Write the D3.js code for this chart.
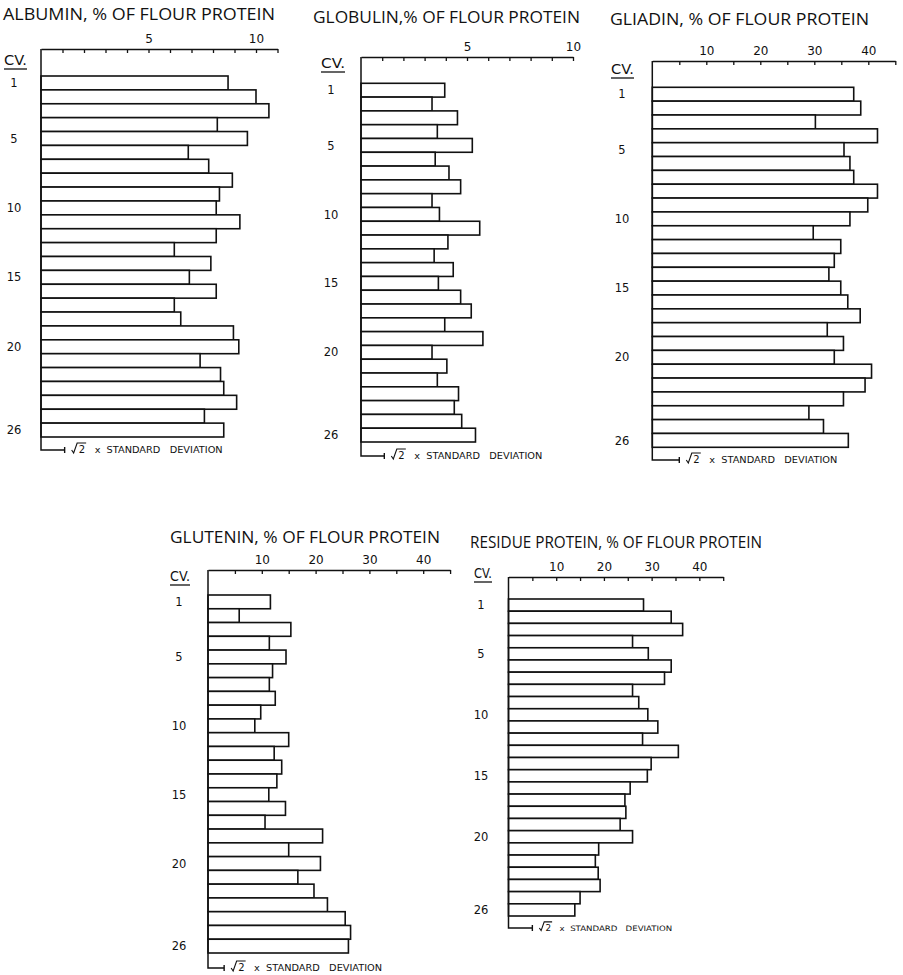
<!DOCTYPE html>
<html>
<head>
<meta charset="utf-8">
<script src="https://cdn.jsdelivr.net/npm/d3@7"></script>
<style>
  body { margin: 0; background: #fff; }
  text { font-family: "DejaVu Sans", "Liberation Sans", sans-serif; fill: #111; }
  .title { font-family: "Open Sans", "Liberation Sans", sans-serif; }
</style>
</head>
<body>
<script>
// cultivar numbers and the ones that get a label
const cvNumbers = d3.range(1, 27);
const cvTickLabels = [1, 5, 10, 15, 20, 26];

// % of flour protein, cultivars 1..26
const albumin = [8.7, 10.0, 10.6, 8.2, 9.6, 6.85, 7.8, 8.9, 8.3, 8.15, 9.25, 8.15, 6.2,
  7.9, 6.9, 8.15, 6.2, 6.5, 8.95, 9.2, 7.4, 8.35, 8.5, 9.1, 7.6, 8.5];
const globulin = [3.95, 3.35, 4.55, 3.6, 5.25, 3.5, 4.15, 4.7, 3.35, 3.7, 5.6, 4.1, 3.45,
  4.35, 3.65, 4.7, 5.2, 3.95, 5.75, 3.35, 4.05, 3.6, 4.6, 4.4, 4.75, 5.4];
const gliadin = [37.3, 38.6, 30.2, 41.7, 35.5, 36.6, 37.3, 41.7, 39.9, 36.6, 29.8, 34.9, 33.7,
  32.7, 34.9, 36.2, 38.5, 32.4, 35.4, 33.7, 40.6, 39.4, 35.4, 29.0, 31.7, 36.3];
const glutenin = [11.6, 5.8, 15.4, 11.4, 14.5, 12.0, 11.4, 12.5, 9.8, 8.7, 15.0, 12.3, 13.7,
  12.8, 11.3, 14.4, 10.6, 21.3, 15.0, 20.9, 16.7, 19.7, 22.2, 25.5, 26.5, 26.1];
const residue = [28.3, 34.1, 36.5, 26.0, 29.3, 34.1, 32.7, 26.0, 27.3, 29.2, 31.3, 28.1, 35.6,
  29.9, 29.1, 25.5, 24.4, 24.6, 23.4, 26.0, 18.9, 18.2, 18.8, 19.2, 15.0, 13.9];

// sqrt(2) x standard deviation, same units
const sdValues = [1.1, 1.1, 5, 3, 5];

const titles = [
  "ALBUMIN, % OF FLOUR PROTEIN",
  "GLOBULIN,% OF FLOUR PROTEIN",
  "GLIADIN, % OF FLOUR PROTEIN",
  "GLUTENIN, % OF FLOUR PROTEIN",
  "RESIDUE PROTEIN, % OF FLOUR PROTEIN"
];
const axisMax = [11, 10, 45, 45, 45];
const axisTicks = [d3.range(1, 12), d3.range(1, 11), d3.range(5, 50, 5), d3.range(5, 50, 5), d3.range(5, 50, 5)];
const axisLabels = [[5, 10], [5, 10], [10, 20, 30, 40], [10, 20, 30, 40], [10, 20, 30, 40]];

// layout of each panel on the page (pixels)
const layout = [
  { tx: 3, ty: 20, tw: 272, ay: 49, x0: 41, x1: 277.5, top: 76, bottom: 437, lx: 14, cvx: 4, cvy: 65, cvw: 23, sdy: 450, rs: 1 },
  { tx: 313, ty: 23, tw: 267, ay: 57, x0: 361, x1: 573, top: 83.3, bottom: 442, lx: 331, cvx: 321, cvy: 68, cvw: 24, sdy: 456, rs: 1 },
  { tx: 610, ty: 25, tw: 259, ay: 61, x0: 652.3, x1: 895.3, top: 87.3, bottom: 447.3, lx: 622, cvx: 611, cvy: 74, cvw: 23, sdy: 460, rs: 1 },
  { tx: 170, ty: 543, tw: 270, ay: 570, x0: 208, x1: 450.1, top: 595, bottom: 953, lx: 179, cvx: 170, cvy: 581, cvw: 20, sdy: 968, rs: 1 },
  { tx: 470, ty: 548, tw: 292, ay: 577, x0: 508.5, x1: 723.2, top: 599, bottom: 916, lx: 481, cvx: 474, cvy: 578, cvw: 18, sdy: 928, rs: 0.88 }
];

const series = [albumin, globulin, gliadin, glutenin, residue];

const svg = d3.select("body").append("svg")
  .attr("width", 903)
  .attr("height", 975);

series.forEach((values, i) => {
  const L = layout[i];
  const g = svg.append("g");

  const x = d3.scaleLinear().domain([0, axisMax[i]]).range([L.x0, L.x1]);
  const y = d3.scaleBand().domain(cvNumbers).range([L.top, L.bottom]).padding(0);

  // title
  g.append("text")
    .attr("class", "title")
    .attr("x", L.tx)
    .attr("y", L.ty)
    .attr("font-size", 16)
    .attr("textLength", L.tw)
    .attr("lengthAdjust", "spacingAndGlyphs")
    .text(titles[i]);

  // top axis, ticks hang down into the plot
  const labels = axisLabels[i];
  const ax = g.append("g")
    .attr("transform", `translate(0,${L.ay})`)
    .call(d3.axisTop(x)
      .tickValues(axisTicks[i])
      .tickSizeInner(-4)
      .tickSizeOuter(0)
      .tickPadding(6)
      .tickFormat(d => labels.includes(d) ? d : ""));
  ax.select(".domain").attr("stroke", "#111").attr("stroke-width", 1.5);
  ax.selectAll(".tick line").attr("stroke", "#111").attr("stroke-width", 1.3);
  ax.selectAll(".tick text")
    .attr("font-size", 12)
    .attr("fill", "#111")
    .style("font-family", "'DejaVu Sans', sans-serif");

  // bars
  g.selectAll("rect.bar")
    .data(values)
    .enter().append("rect")
    .attr("class", "bar")
    .attr("x", x(0))
    .attr("y", (d, j) => y(cvNumbers[j]))
    .attr("width", d => x(d) - x(0))
    .attr("height", y.bandwidth())
    .attr("fill", "#fff")
    .attr("stroke", "#111")
    .attr("stroke-width", 1.6);

  // CV. header
  g.append("text")
    .attr("x", L.cvx)
    .attr("y", L.cvy)
    .attr("font-size", 13.5)
    .attr("textLength", L.cvw)
    .attr("lengthAdjust", "spacingAndGlyphs")
    .text("CV.");
  g.append("line")
    .attr("x1", L.cvx).attr("x2", L.cvx + L.cvw)
    .attr("y1", L.cvy + 4).attr("y2", L.cvy + 4)
    .attr("stroke", "#111").attr("stroke-width", 1.3);

  // cultivar labels
  g.selectAll("text.cv")
    .data(cvTickLabels)
    .enter().append("text")
    .attr("class", "cv")
    .attr("x", L.lx)
    .attr("y", d => y(d) + y.bandwidth() / 2)
    .attr("dy", "0.36em")
    .attr("text-anchor", "middle")
    .attr("font-size", 11.5)
    .text(d => d);

  // left axis running down to the standard deviation marker
  const sdEnd = x(sdValues[i]);
  g.append("path")
    .attr("d", `M${x(0)},${L.ay}V${L.sdy}H${sdEnd}`)
    .attr("fill", "none")
    .attr("stroke", "#111")
    .attr("stroke-width", 1.5);
  g.append("line")
    .attr("x1", sdEnd).attr("x2", sdEnd)
    .attr("y1", L.sdy - 3).attr("y2", L.sdy + 3)
    .attr("stroke", "#111").attr("stroke-width", 1.4);

  // sqrt(2) x standard deviation
  const rx = sdEnd + 7;
  const s = L.rs;
  g.append("path")
    .attr("d", `M${rx},${L.sdy}l${2 * s},${3 * s}l${3.5 * s},${-10 * s}h${9 * s}`)
    .attr("fill", "none")
    .attr("stroke", "#111")
    .attr("stroke-width", 1.1);
  g.append("text")
    .attr("x", rx + 7 * s)
    .attr("y", L.sdy + 3 * s)
    .attr("font-size", 10 * s)
    .text("2");
  g.append("text")
    .attr("x", rx + 23 * s)
    .attr("y", L.sdy + 3 * s)
    .attr("font-size", 8.5 * s)
    .attr("textLength", 128 * s)
    .attr("lengthAdjust", "spacingAndGlyphs")
    .attr("xml:space", "preserve")
    .text("x  STANDARD   DEVIATION");
});
</script>
</body>
</html>
